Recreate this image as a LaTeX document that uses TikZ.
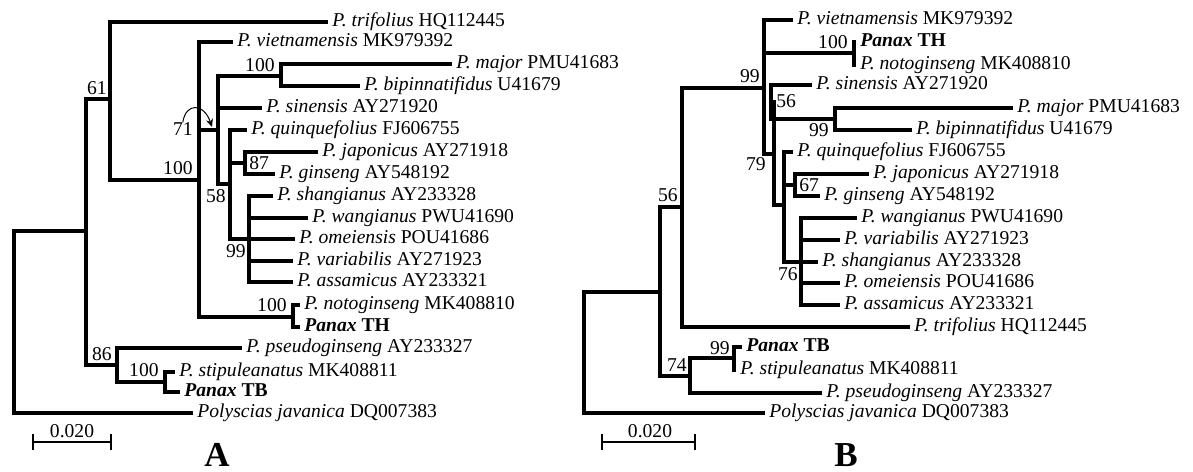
\documentclass[tikz,border=0pt]{standalone}
\usepackage{fontspec}
\setmainfont{Liberation Serif}
\usetikzlibrary{arrows.meta}

\begin{document}
\begin{tikzpicture}[x=0.5pt,y=-0.5pt,font=\fontsize{9.8}{11}\selectfont,
    br/.style={line width=1.75pt},
    leaf/.style={anchor=west,inner sep=2pt,text height=6.5pt,text depth=2pt},
    bs/.style={inner sep=0pt},
    panel/.style={anchor=base,inner sep=0pt,font=\fontsize{17.5}{19}\selectfont\bfseries}]
    \useasboundingbox (0,0) rectangle (1193,471);

    % tree A
    \coordinate (aR) at (14,321);
    \coordinate (a1) at (86,231);
    \coordinate (a61) at (110,99);
    \coordinate (a100) at (199,180);
    \coordinate (a71) at (218,130);
    \coordinate (a100b) at (281,76);
    \coordinate (a58) at (230,184);
    \coordinate (a87) at (245,163);
    \coordinate (a99) at (249,239);
    \coordinate (aTH) at (293,317);
    \coordinate (a86) at (117,365);
    \coordinate (a100c) at (165,382);

    \node[leaf] (trifA) at (328,22) {\textit{P. trifolius} HQ112445};
    \node[leaf] (vietA) at (233,42) {\textit{P. vietnamensis} MK979392};
    \node[leaf] (majorA) at (452,64) {\textit{P. major} PMU41683};
    \node[leaf] (bipA) at (360,86) {\textit{P. bipinnatifidus} U41679};
    \node[leaf] (sinA) at (262,108) {\textit{P. sinensis} AY271920};
    \node[leaf] (quinA) at (247,130) {\textit{P. quinquefolius} FJ606755};
    \node[leaf] (japA) at (318,152) {\textit{P. japonicus} AY271918};
    \node[leaf] (ginA) at (275,174) {\textit{P. ginseng} AY548192};
    \node[leaf] (shanA) at (273,196) {\textit{P. shangianus} AY233328};
    \node[leaf] (wangA) at (308,218) {\textit{P. wangianus} PWU41690};
    \node[leaf] (omeA) at (295,239) {\textit{P. omeiensis} POU41686};
    \node[leaf] (varA) at (293,261) {\textit{P. variabilis} AY271923};
    \node[leaf] (assA) at (293,282) {\textit{P. assamicus} AY233321};
    \node[leaf] (notoA) at (300,305) {\textit{P. notoginseng} MK408810};
    \node[leaf] (thA) at (300,327) {\textbf{\textit{Panax} TH}};
    \node[leaf] (pseuA) at (242,348) {\textit{P. pseudoginseng} AY233327};
    \node[leaf] (stipA) at (175,372) {\textit{P. stipuleanatus} MK408811};
    \node[leaf] (tbA) at (180,392) {\textbf{\textit{Panax} TB}};
    \node[leaf] (polyA) at (193,413) {\textit{Polyscias javanica} DQ007383};

    \draw[br] (aR) |- (a1) (aR) |- (polyA.west);
    \draw[br] (a1) |- (a61) (a1) |- (a86);
    \draw[br] (a61) |- (trifA.west) (a61) |- (a100);
    \draw[br] (a100) |- (vietA.west) (a100) |- (a71) (a100) |- (aTH);
    \draw[br] (a71) |- (a100b) (a71) |- (sinA.west) (a71) |- (a58);
    \draw[br] (a100b) |- (majorA.west) (a100b) |- (bipA.west);
    \draw[br] (a58) |- (quinA.west) (a58) |- (a87) (a58) |- (a99);
    \draw[br] (a87) |- (japA.west) (a87) |- (ginA.west);
    \draw[br] (a99) |- (shanA.west) (a99) |- (wangA.west) (a99) |- (omeA.west)
        (a99) |- (varA.west) (a99) |- (assA.west);
    \draw[br] (aTH) |- (notoA.west) (aTH) |- (thA.west);
    \draw[br] (a86) |- (pseuA.west) (a86) |- (a100c);
    \draw[br] (a100c) |- (stipA.west) (a100c) |- (tbA.west);

    \node[bs,anchor=south east] at (107,95) {61};
    \node[bs,anchor=south east] at (193,175) {100};
    \node[bs,anchor=south east] (l71) at (193,136) {71};
    \node[bs,anchor=south east] at (275,72) {100};
    \node[bs,anchor=north east] at (226,189) {58};
    \node[bs,anchor=south west] at (249,170) {87};
    \node[bs,anchor=north east] at (246,244) {99};
    \node[bs,anchor=south east] at (287,312) {100};
    \node[bs,anchor=south east] at (112,361) {86};
    \node[bs,anchor=south east] at (159,377) {100};
    \draw[line width=0.5pt,-{Stealth[length=4pt,width=3.5pt]}] (l71.north)
        .. controls +(3,-20) and +(-8,-24) .. ([shift={(-6,-3)}]a71);

    \coordinate (sA1) at (33,442);
    \coordinate (sA2) at (111,442);
    \draw[line width=1.4pt] (sA1) -- (sA2);
    \draw[line width=1.4pt] ([yshift=-4]sA1) -- ([yshift=4]sA1);
    \draw[line width=1.4pt] ([yshift=-4]sA2) -- ([yshift=4]sA2);
    \node[bs,anchor=south] at (72,438) {0.020};
    \node[panel] at (217,466) {A};

    % tree B
    \coordinate (bR) at (584,352);
    \coordinate (b1) at (660,292);
    \coordinate (b56) at (682,207);
    \coordinate (b99) at (764,88);
    \coordinate (bTH) at (854,53);
    \coordinate (b79) at (774,154);
    \coordinate (b56b) at (771,102);
    \coordinate (b99b) at (835,119);
    \coordinate (b58) at (784,205);
    \coordinate (b67) at (795,185);
    \coordinate (b76) at (801,262);
    \coordinate (b74) at (690,376);
    \coordinate (b99c) at (734,358);

    \node[leaf] (vietB) at (793,20) {\textit{P. vietnamensis} MK979392};
    \node[leaf] (thB) at (856,42) {\textbf{\textit{Panax} TH}};
    \node[leaf] (notoB) at (856,65) {\textit{P. notoginseng} MK408810};
    \node[leaf] (sinB) at (812,85) {\textit{P. sinensis} AY271920};
    \node[leaf] (majorB) at (1013,108) {\textit{P. major} PMU41683};
    \node[leaf] (bipB) at (912,130) {\textit{P. bipinnatifidus} U41679};
    \node[leaf] (quinB) at (793,152) {\textit{P. quinquefolius} FJ606755};
    \node[leaf] (japB) at (869,174) {\textit{P. japonicus} AY271918};
    \node[leaf] (ginB) at (820,196) {\textit{P. ginseng} AY548192};
    \node[leaf] (wangB) at (857,218) {\textit{P. wangianus} PWU41690};
    \node[leaf] (varB) at (840,240) {\textit{P. variabilis} AY271923};
    \node[leaf] (shanB) at (818,262) {\textit{P. shangianus} AY233328};
    \node[leaf] (omeB) at (840,283) {\textit{P. omeiensis} POU41686};
    \node[leaf] (assB) at (840,305) {\textit{P. assamicus} AY233321};
    \node[leaf] (trifB) at (910,327) {\textit{P. trifolius} HQ112445};
    \node[leaf] (tbB) at (742,347) {\textbf{\textit{Panax} TB}};
    \node[leaf] (stipB) at (736,370) {\textit{P. stipuleanatus} MK408811};
    \node[leaf] (pseuB) at (822,393) {\textit{P. pseudoginseng} AY233327};
    \node[leaf] (polyB) at (765,413) {\textit{Polyscias javanica} DQ007383};

    \draw[br] (bR) |- (b1) (bR) |- (polyB.west);
    \draw[br] (b1) |- (b56) (b1) |- (b74);
    \draw[br] (b56) |- (b99) (b56) |- (trifB.west);
    \draw[br] (b99) |- (vietB.west) (b99) |- (bTH) (b99) |- (b79);
    \draw[br] (bTH) |- (thB.west) (bTH) |- (notoB.west);
    \draw[br] (b79) |- (b56b) (b79) |- (b58);
    \draw[br] (b56b) |- (sinB.west) (b56b) |- (b99b);
    \draw[br] (b99b) |- (majorB.west) (b99b) |- (bipB.west);
    \draw[br] (b58) |- (quinB.west) (b58) |- (b67) (b58) |- (b76);
    \draw[br] (b67) |- (japB.west) (b67) |- (ginB.west);
    \draw[br] (b76) |- (wangB.west) (b76) |- (varB.west) (b76) |- (shanB.west)
        (b76) |- (omeB.west) (b76) |- (assB.west);
    \draw[br] (b74) |- (b99c) (b74) |- (pseuB.west);
    \draw[br] (b99c) |- (tbB.west) (b99c) |- (stipB.west);

    \node[bs,anchor=south east] at (678,202) {56};
    \node[bs,anchor=south east] at (760,83) {99};
    \node[bs,anchor=south east] at (848,49) {100};
    \node[bs,anchor=north east] at (766,157) {79};
    \node[bs,anchor=south west] at (776,108) {56};
    \node[bs,anchor=north east] at (829,123) {99};
    \node[bs,anchor=south west] at (799,192) {67};
    \node[bs,anchor=north east] at (798,267) {76};
    \node[bs,anchor=south east] at (687,372) {74};
    \node[bs,anchor=south east] at (730,355) {99};

    \coordinate (sB1) at (602,442);
    \coordinate (sB2) at (695,442);
    \draw[line width=1.4pt] (sB1) -- (sB2);
    \draw[line width=1.4pt] ([yshift=-4]sB1) -- ([yshift=4]sB1);
    \draw[line width=1.4pt] ([yshift=-4]sB2) -- ([yshift=4]sB2);
    \node[bs,anchor=south] at (650,438) {0.020};
    \node[panel] at (846,466) {B};
\end{tikzpicture}
\end{document}
